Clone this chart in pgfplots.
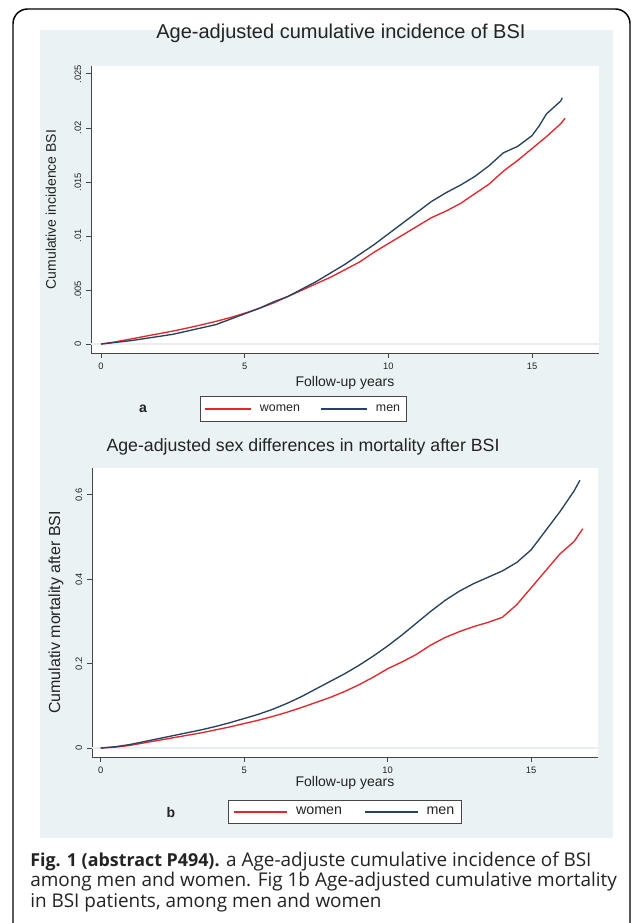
\documentclass[border=0pt]{standalone}
\usepackage{pgfplots}
\pgfplotsset{compat=1.18}
\usepackage{fontspec}
\setmainfont{Liberation Sans}
\newfontfamily\capfont{Open Sans}
\definecolor{bgblue}{RGB}{234,242,243}
\definecolor{gridc}{RGB}{232,238,240}
\definecolor{wred}{RGB}{226,38,44}
\definecolor{mblue}{RGB}{38,66,94}
\definecolor{axgray}{RGB}{70,70,70}
\definecolor{txt}{RGB}{35,35,35}
\pgfplotsset{stata/.style={
  scale only axis, anchor=south west,
  axis x line*=bottom, axis y line*=left,
  axis line style={axgray, line width=0.75pt},
  tick align=outside, major tick length=3.75pt,
  every tick/.style={axgray, line width=0.75pt},
  xtick={0,5,10,15}, xticklabels={0,5,10,15},
  scaled y ticks=false, scaled x ticks=false,
  tick label style={font=\fontsize{7}{8}\selectfont, text=txt},
  yticklabel style={rotate=90, anchor=south},
  axis background/.style={fill=white},
  extra y ticks={0}, extra y tick labels={},
  extra y tick style={grid=major, major grid style={gridc, line width=1pt}, major tick length=0pt},
  label style={text=txt},
  title style={text=txt},
  legend columns=2,
  legend image code/.code={\draw[#1] (0pt,0pt) -- (34.5pt,0pt);},
  legend style={draw=axgray, fill=white, anchor=center, inner xsep=3.5pt, inner ysep=4.5pt,
    nodes={inner sep=1.5pt, text=txt},
    /tikz/every odd column/.append style={column sep=4.5pt},
    /tikz/every even column/.append style={column sep=14pt}},
}}
\begin{document}
\begin{tikzpicture}[x=0.75pt,y=-0.75pt]
\useasboundingbox (0,0) rectangle (636,923);
\fill[white] (0,0) rectangle (636,923);
\draw[black, line width=1.1pt, rounded corners=11pt] (13,960) -- (13,9) -- (630,9) -- (630,960);
\fill[bgblue] (40,30) rectangle (613,838);

% ---------------- panel a ----------------
\begin{axis}[stata,
  at={(68.25pt,-264.75pt)}, width=381pt, height=215.25pt,
  xmin=-0.35, xmax=17.33, ymin=-0.00083, ymax=0.02574,
  ytick={0,0.005,0.01,0.015,0.02,0.025},
  yticklabels={0,.005,.01,.015,.02,.025},
  title={Age-adjusted cumulative incidence of BSI},
  title style={font=\fontsize{15}{17}\selectfont, at={(axis description cs:0.492,1.085)}, anchor=center},
  xlabel={Follow-up years},
  xlabel style={font=\fontsize{10.5}{12}\selectfont, at={(axis description cs:0.5,-0.1045)}, anchor=center},
  ylabel={Cumulative incidence BSI},
  ylabel style={font=\fontsize{10.5}{12}\selectfont, at={(axis description cs:-0.079,0.5)}, anchor=center},
  legend style={at={(axis description cs:0.418,-0.195)}, font=\fontsize{9.3}{10}\selectfont},
]
\addplot[wred, line width=1pt] coordinates {
(0,0) (0.5,0.0002) (1,0.00045) (1.5,0.0007) (2,0.00095) (2.5,0.0012) (3,0.00148) (3.5,0.00178)
(4,0.0021) (4.5,0.00245) (5,0.00285) (5.5,0.0033) (6,0.0038) (6.5,0.0044) (7,0.0050) (7.5,0.0056)
(8,0.0062) (8.5,0.0069) (9,0.0076) (9.5,0.0085) (10,0.0093) (10.5,0.0101) (11,0.0109) (11.5,0.0117)
(12,0.0123) (12.5,0.0130) (13,0.0139) (13.5,0.0148) (14,0.0160) (14.25,0.0165) (14.5,0.0170) (15,0.0181)
(15.5,0.0192) (16,0.0204) (16.15,0.0209)};
\addlegendentry{women}
\addplot[mblue, line width=1pt] coordinates {
(0,0) (0.5,0.00015) (1,0.0003) (1.5,0.0005) (2,0.0007) (2.5,0.0009) (3,0.0012) (3.5,0.0015)
(4,0.0018) (4.5,0.0023) (5,0.0028) (5.5,0.0033) (6,0.0039) (6.5,0.0044) (7,0.0051) (7.5,0.0058)
(8,0.0066) (8.5,0.0074) (9,0.0083) (9.5,0.0092) (10,0.0102) (10.5,0.0112) (11,0.0122) (11.5,0.0132)
(12,0.0140) (12.5,0.0147) (13,0.0155) (13.5,0.0165) (14,0.0177) (14.5,0.0183) (15,0.0193)
(15.25,0.0202) (15.5,0.0213) (15.75,0.0219) (16,0.0225) (16.05,0.0228)};
\addlegendentry{men}
\end{axis}
\node[font=\bfseries\fontsize{10.5}{12}\selectfont, text=txt] at (143,409) {a};

% ---------------- panel b ----------------
\begin{axis}[stata,
  at={(69pt,-567.75pt)}, width=379.5pt, height=216.75pt,
  xmin=-0.30, xmax=17.33, ymin=-0.0213, ymax=0.664,
  ytick={0,0.2,0.4,0.6},
  yticklabels={0,0.2,0.4,0.6},
  title={Age-adjusted sex differences in mortality after BSI},
  title style={font=\fontsize{13.3}{15}\selectfont, at={(axis description cs:0.417,1.045)}, anchor=center},
  xlabel={Follow-up years},
  xlabel style={font=\fontsize{10.5}{12}\selectfont, at={(axis description cs:0.5,-0.09)}, anchor=center},
  ylabel={Cumulativ mortality after BSI},
  ylabel style={font=\fontsize{12}{14}\selectfont, at={(axis description cs:-0.071,0.5)}, anchor=center},
  legend image code/.code={\draw[#1] (0pt,0pt) -- (39.7pt,0pt);},
  legend style={at={(axis description cs:0.5,-0.19)}, font=\fontsize{10.7}{12}\selectfont,
    inner xsep=4pt, inner ysep=3.5pt,
    /tikz/every odd column/.append style={column sep=4.6pt},
    /tikz/every even column/.append style={column sep=15pt}},
]
\addplot[wred, line width=1pt] coordinates {
(0,0) (0.5,0.002) (1,0.006) (1.5,0.012) (2,0.018) (2.5,0.024) (3,0.030) (3.5,0.036) (4,0.043)
(4.5,0.050) (5,0.058) (5.5,0.066) (6,0.075) (6.5,0.085) (7,0.096) (7.5,0.108) (8,0.120) (8.5,0.134)
(9,0.150) (9.5,0.168) (10,0.188) (10.5,0.204) (11,0.222) (11.5,0.244) (12,0.262) (12.5,0.276)
(13,0.288) (13.5,0.298) (14,0.310) (14.5,0.340) (15,0.380) (15.5,0.420) (16,0.460) (16.5,0.49) (16.8,0.52)};
\addlegendentry{women}
\addplot[mblue, line width=1pt] coordinates {
(0,0) (0.5,0.003) (1,0.008) (1.5,0.015) (2,0.022) (2.5,0.029) (3,0.036) (3.5,0.043) (4,0.051)
(4.5,0.060) (5,0.070) (5.5,0.080) (6,0.092) (6.5,0.106) (7,0.122) (7.5,0.140) (8,0.158) (8.5,0.176)
(9,0.196) (9.5,0.218) (10,0.242) (10.5,0.268) (11,0.296) (11.5,0.324) (12,0.350) (12.5,0.372)
(13,0.390) (13.5,0.405) (14,0.420) (14.5,0.440) (15,0.470) (15.5,0.515) (16,0.56) (16.5,0.61) (16.7,0.635)};
\addlegendentry{men}
\end{axis}
\node[font=\bfseries\fontsize{10.5}{12}\selectfont, text=txt] at (171,812) {b};

% ---------------- caption ----------------
\begin{scope}[every node/.style={anchor=base west, inner sep=0pt, text=txt, font=\capfont\fontsize{14.2}{16}\selectfont}]
\node at (30,866) {{\fontsize{13.4}{16}\selectfont\textbf{Fig. 1 (abstract P494).}} a Age-adjuste cumulative incidence of BSI};
\node at (30,886.5) {among men and women. Fig 1b Age-adjusted cumulative mortality};
\node at (30,907) {in BSI patients, among men and women};
\end{scope}
\end{tikzpicture}
\end{document}
